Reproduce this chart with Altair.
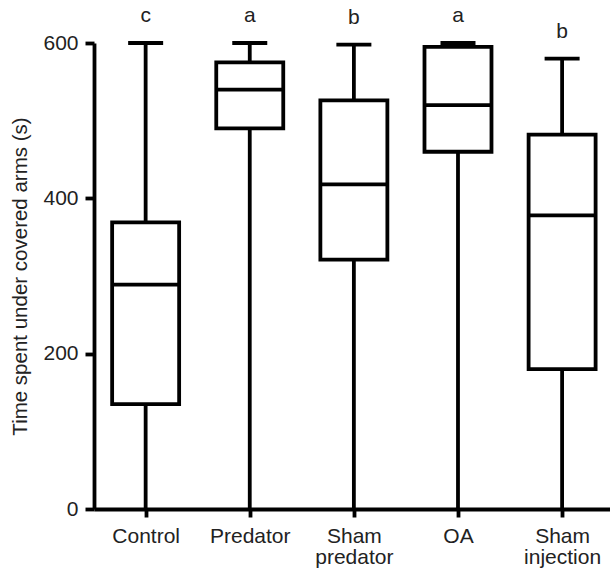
import json
import altair as alt
import pandas as pd

groups = ["Control", "Predator", "Sham predator", "OA", "Sham injection"]
mins = [0, 0, 0, 0, 0]
q1s = [135, 490, 321, 460, 180]
medians = [289, 540, 418, 520, 378]
q3s = [369, 575, 526, 595, 482]
maxs = [600, 600, 598, 600, 580]
letters = ["c", "a", "b", "a", "b"]
y_ticks = [0, 200, 400, 600]

df = pd.DataFrame({
    "pos": list(range(len(groups))),
    "group": groups,
    "min": mins,
    "q1": q1s,
    "median": medians,
    "q3": q3s,
    "max": maxs,
    "letter": letters,
})

FONT = "Liberation Sans"
TXT = "#222222"
LW = 3.8

label_expr = "split(" + json.dumps(groups) + "[datum.value], ' ')"

x_enc = alt.X(
    "pos:Q",
    scale=alt.Scale(domain=[-0.496, 4.46], nice=False, zero=False, padding=0),
    axis=alt.Axis(
        values=list(range(len(groups))),
        labelExpr=label_expr,
        title=None,
        grid=False,
        tickSize=8,
        labelPadding=8,
        labelLineHeight=21,
    ),
)

y_axis = alt.Axis(
    values=y_ticks,
    title="Time spent under covered arms (s)",
    grid=False,
    tickSize=9,
    labelPadding=7,
    titlePadding=12,
)
y_scale = alt.Scale(domain=[0, 600], nice=False, zero=True, padding=0)

base = alt.Chart(df)

lower = base.mark_rule(color="black", strokeWidth=LW).encode(
    x=x_enc, y=alt.Y("min:Q", scale=y_scale, axis=y_axis), y2="q1:Q"
)
upper = base.mark_rule(color="black", strokeWidth=LW).encode(
    x=x_enc, y=alt.Y("q3:Q", scale=y_scale, axis=y_axis), y2="max:Q"
)
box = base.mark_bar(width=67, fill="white", stroke="black", strokeWidth=LW).encode(
    x=x_enc, y=alt.Y("q1:Q", scale=y_scale, axis=y_axis), y2="q3:Q"
)
med = base.mark_tick(orient="horizontal", size=67, thickness=LW, color="black", opacity=1).encode(
    x=x_enc, y=alt.Y("median:Q", scale=y_scale, axis=y_axis)
)
caps = base.mark_tick(orient="horizontal", size=35, thickness=LW, color="black", opacity=1).encode(
    x=x_enc, y=alt.Y("max:Q", scale=y_scale, axis=y_axis)
)
labels = base.mark_text(
    dy=-21, baseline="alphabetic", fontSize=21, font=FONT, color=TXT
).encode(
    x=x_enc, y=alt.Y("max:Q", scale=y_scale, axis=y_axis), text="letter:N"
)

chart = (
    alt.layer(lower, upper, box, med, caps, labels)
    .properties(
        width=516,
        height=466,
        padding={"left": 94, "top": 43, "right": 0, "bottom": 62},
        autosize="none",
        background="white",
    )
    .configure_view(stroke=None)
    .configure_axis(
        domainColor="black",
        domainWidth=LW,
        tickColor="black",
        tickWidth=LW,
        labelFont=FONT,
        labelFontSize=21,
        labelColor=TXT,
        titleFont=FONT,
        titleFontSize=20.5,
        titleFontWeight="normal",
        titleColor=TXT,
    )
)

chart.save("out.html", embed_options={"renderer": "svg", "actions": False})
